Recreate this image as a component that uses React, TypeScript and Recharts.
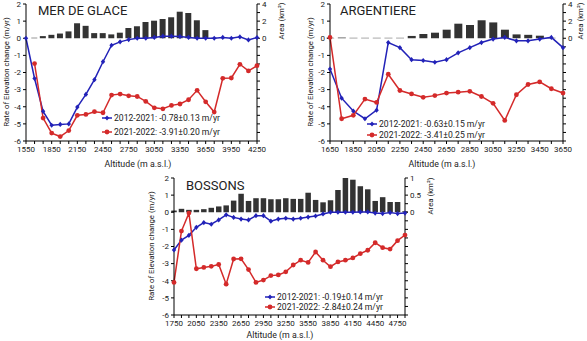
import React from 'react';
import { ComposedChart, Bar, Line, XAxis, YAxis } from 'recharts';

const BLUE = '#2222b8';
const RED = '#d42a2a';
const BAR = '#333333';
const FONT = 'Roboto, sans-serif';

// Mer de Glace
const merAlt = [1550, 1650, 1750, 1850, 1950, 2050, 2150, 2250, 2350, 2450, 2550, 2650, 2750, 2850, 2950, 3050, 3150, 3250, 3350, 3450, 3550, 3650, 3750, 3850, 3950, 4050, 4150, 4250];
const merBlue = [0, -2.35, -4.27, -5.08, -5.03, -5.0, -4.02, -3.28, -2.42, -1.37, -0.41, -0.21, -0.08, 0, 0, 0.05, 0.12, 0.12, 0.1, 0.05, 0, 0, 0, 0.05, 0, 0.08, -0.1, 0.04];
const merRed = [null, -1.48, -4.66, -5.54, -5.74, -5.39, -4.5, -4.45, -4.29, -4.35, -3.32, -3.26, -3.36, -3.4, -3.69, -4.06, -4.12, -3.92, -3.84, -3.59, -3.04, -3.71, -4.31, -2.34, -2.32, -1.52, -1.91, -1.6];
const merArea = [null, 0.05, 0.25, 0.4, 0.55, 0.8, 1.75, 1.45, 0.6, 0.6, 0.45, 0.65, 1.2, 1.4, 1.9, 2.05, 2.25, 2.45, 3.1, 2.95, 2.1, 0.95, 0.05, null, null, null, null, null];
const merXLabels = [1550, 1850, 2150, 2450, 2750, 3050, 3350, 3650, 3950, 4250];

// Argentiere
const argAlt = [1650, 1750, 1850, 1950, 2050, 2150, 2250, 2350, 2450, 2550, 2650, 2750, 2850, 2950, 3050, 3150, 3250, 3350, 3450, 3550, 3650];
const argBlue = [-1.8, -3.5, -4.25, -4.7, -4.2, -0.25, -0.55, -1.25, -1.3, -1.4, -1.25, -0.85, -0.55, -0.25, -0.05, 0.05, -0.15, -0.15, -0.05, 0.05, -0.55];
const argRed = [0.05, -4.7, -4.5, -3.55, -3.75, -2.1, -3.05, -3.25, -3.45, -3.35, -3.2, -3.15, -3.1, -3.4, -3.8, -4.8, -3.3, -2.7, -2.55, -2.95, -3.2];
const argArea = [0.05, 0.08, 0.05, 0.05, 0.05, 0.05, 0.05, 0.27, 0.5, 0.65, 1.0, 1.7, 1.55, 2.1, 1.85, 1.0, 0.45, 0.4, 0.3, 0.05, null];
const argXLabels = [1650, 1850, 2050, 2250, 2450, 2650, 2850, 3050, 3250, 3450, 3650];

// Bossons
const bosAlt = [1750, 1850, 1950, 2050, 2150, 2250, 2350, 2450, 2550, 2650, 2750, 2850, 2950, 3050, 3150, 3250, 3350, 3450, 3550, 3650, 3750, 3850, 3950, 4050, 4150, 4250, 4350, 4450, 4550, 4650, 4750, 4850];
const bosBlue = [-2.2, -1.63, -1.35, -0.88, -0.6, -0.7, -0.45, -0.15, -0.3, -0.4, -0.45, -0.2, -0.2, -0.52, -0.4, -0.35, -0.4, -0.35, -0.28, -0.22, -0.1, 0, 0, 0, 0, 0.02, 0.02, -0.05, -0.08, -0.02, -0.08, -0.05];
const bosRed = [-4.1, -1.1, -0.05, -3.3, -3.22, -3.16, -3.05, -4.2, -2.73, -2.72, -3.35, -4.1, -3.96, -3.7, -3.66, -3.48, -3.08, -2.8, -2.93, -2.32, -2.8, -3.18, -2.9, -2.8, -2.67, -2.42, -2.22, -1.78, -2.07, -2.15, -1.66, -1.33];
const bosArea = [0.05, 0.1, 0.07, 0.07, 0.09, 0.13, 0.17, 0.2, 0.34, 0.54, 0.33, 0.41, 0.41, 0.38, 0.38, 0.41, 0.39, 0.39, 0.57, 0.36, 0.29, 0.35, 0.65, 1.0, 0.95, 0.76, 0.67, 0.33, 0.44, 0.3, 0.3, 0.03];
const bosXLabels = [1750, 2050, 2350, 2650, 2950, 3250, 3550, 3850, 4150, 4450, 4750];

const leftTicks = [-6, -5, -4, -3, -2, -1, 0, 1, 2];
const kmTicks4 = [-12, -11, -10, -9, -8, -7, -6, -5, -4, -3, -2, -1, 0, 1, 2, 3, 4];
const kmLabels4 = [0, 2, 4];
const kmTicks1 = [-3, -2.75, -2.5, -2.25, -2, -1.75, -1.5, -1.25, -1, -0.75, -0.5, -0.25, 0, 0.25, 0.5, 0.75, 1];
const kmLabels1 = [0, 0.5, 1];

const rowsOf = (alt: number[], b: (number | null)[], r: (number | null)[], a: (number | null)[]) =>
  alt.map((x, i) => ({ alt: x, b: b[i], r: r[i], area: a[i] }));

const renderDiamond = (p: any) => {
  if (p.cx == null || p.cy == null || p.value == null) return <g key={`d${p.index}`} />;
  const { cx, cy } = p;
  return <path key={`d${p.index}`} d={`M${cx},${cy - 2.6}L${cx + 2.2},${cy}L${cx},${cy + 2.6}L${cx - 2.2},${cy}Z`} fill={BLUE} />;
};

const tickStyle = { fontSize: 8, fill: '#222', fontFamily: FONT };

function Panel(props: any) {
  const { rows, w, h, margin, leftW, rightW, xDomain, xTicks, xLabels, rightDomain, rightTicks, rightLabels, barSize } = props;
  return (
    <ComposedChart width={w} height={h} data={rows} margin={margin}>
      <XAxis
        dataKey="alt"
        type="number"
        domain={xDomain}
        ticks={xTicks}
        interval={0}
        tickFormatter={(v: number) => (xLabels.includes(v) ? String(v) : '')}
        tick={tickStyle}
        tickSize={3}
        tickMargin={2.5}
        height={20}
        axisLine={{ stroke: '#000' }}
        tickLine={{ stroke: '#000' }}
      />
      <YAxis
        yAxisId="left"
        domain={[-6, 2]}
        ticks={leftTicks}
        interval={0}
        width={leftW}
        tick={tickStyle}
        tickSize={3}
        tickMargin={2}
        axisLine={{ stroke: '#000' }}
        tickLine={{ stroke: '#000' }}
      />
      <YAxis
        yAxisId="right"
        orientation="right"
        domain={rightDomain}
        ticks={rightTicks}
        interval={0}
        width={rightW}
        tickFormatter={(v: number) => (rightLabels.includes(v) ? String(v) : '')}
        tick={tickStyle}
        tickSize={3}
        tickMargin={2}
        axisLine={{ stroke: '#000' }}
        tickLine={{ stroke: '#000' }}
      />
      <Bar yAxisId="right" dataKey="area" fill={BAR} barSize={barSize} isAnimationActive={false} />
      <Line yAxisId="left" dataKey="b" stroke={BLUE} strokeWidth={1.5} dot={renderDiamond} activeDot={false} isAnimationActive={false} />
      <Line yAxisId="left" dataKey="r" stroke={RED} strokeWidth={1.5} dot={{ r: 2.4, fill: RED, stroke: RED, strokeWidth: 0 }} activeDot={false} isAnimationActive={false} />
    </ComposedChart>
  );
}

function LegendRows({ x, y1, y2, t1, t2 }: any) {
  return (
    <g fontFamily={FONT} fontSize={8.6} fill="#222">
      <line x1={x} x2={x + 10} y1={y1} y2={y1} stroke={BLUE} strokeWidth={1.5} />
      <path d={`M${x + 5},${y1 - 2.6}L${x + 7.2},${y1}L${x + 5},${y1 + 2.6}L${x + 2.8},${y1}Z`} fill={BLUE} />
      <text x={x + 12} y={y1 + 3}>{t1}</text>
      <line x1={x} x2={x + 10} y1={y2} y2={y2} stroke={RED} strokeWidth={1.5} />
      <circle cx={x + 5} cy={y2} r={2.4} fill={RED} />
      <text x={x + 12} y={y2 + 3}>{t2}</text>
    </g>
  );
}

function Titles() {
  const lt = 'Rate of Elevation change (m/yr)';
  const at = 'Altitude (m a.s.l.)';
  return (
    <svg width={587} height={341} style={{ position: 'absolute', left: 0, top: 0, pointerEvents: 'none' }}>
      <g fontFamily={FONT} fill="#222">
        <text x={38} y={15} fontSize={13}>MER DE GLACE</text>
        <text x={340} y={15} fontSize={13}>ARGENTIERE</text>
        <text x={186} y={190} fontSize={13}>BOSSONS</text>

        <text transform="translate(6,72) rotate(-90)" textAnchor="middle" fontSize={7.8} dominantBaseline="central">{lt}</text>
        <text transform="translate(310,72) rotate(-90)" textAnchor="middle" fontSize={7.8} dominantBaseline="central">{lt}</text>
        <text transform="translate(151,246) rotate(-90)" textAnchor="middle" fontSize={7.8} dominantBaseline="central">{lt}</text>

        <text transform="translate(281,21) rotate(-90)" textAnchor="middle" fontSize={7.8} dominantBaseline="central">Area (km²)</text>
        <text transform="translate(580,21) rotate(-90)" textAnchor="middle" fontSize={7.8} dominantBaseline="central">Area (km²)</text>
        <text transform="translate(430,196) rotate(-90)" textAnchor="middle" fontSize={7.8} dominantBaseline="central">Area (km²)</text>

        <text x={138} y={167} textAnchor="middle" fontSize={8.8}>{at}</text>
        <text x={442} y={167} textAnchor="middle" fontSize={8.8}>{at}</text>
        <text x={280} y={338} textAnchor="middle" fontSize={8.8}>{at}</text>
      </g>
      <LegendRows x={102} y1={118} y2={132} t1="2012-2021: -0.78±0.13 m/yr" t2="2021-2022: -3.91±0.20 m/yr" />
      <LegendRows x={367} y1={124} y2={135} t1="2012-2021: -0.63±0.15 m/yr" t2="2021-2022: -3.41±0.25 m/yr" />
      <LegendRows x={265} y1={297} y2={307} t1="2012-2021: -0.19±0.14 m/yr" t2="2021-2022: -2.84±0.24 m/yr" />
    </svg>
  );
}

export default function App() {
  return (
    <div style={{ position: 'absolute', left: 0, top: 0, width: 587, height: 341, background: '#fff', overflow: 'hidden' }}>
      <div style={{ position: 'absolute', left: 0, top: 0 }}>
        <Panel
          rows={rowsOf(merAlt, merBlue, merRed, merArea)}
          w={300} h={175}
          margin={{ top: 4, right: 0, bottom: 14, left: 0 }}
          leftW={26} rightW={43}
          xDomain={[1550, 4250]} xTicks={merAlt} xLabels={merXLabels}
          rightDomain={[-12, 4]} rightTicks={kmTicks4} rightLabels={kmLabels4}
          barSize={6}
        />
      </div>
      <div style={{ position: 'absolute', left: 290, top: 0 }}>
        <Panel
          rows={rowsOf(argAlt, argBlue, argRed, argArea)}
          w={297} h={175}
          margin={{ top: 4, right: 0, bottom: 14, left: 0 }}
          leftW={40} rightW={24}
          xDomain={[1650, 3650]} xTicks={argAlt} xLabels={argXLabels}
          rightDomain={[-12, 4]} rightTicks={kmTicks4} rightLabels={kmLabels4}
          barSize={8}
        />
      </div>
      <div style={{ position: 'absolute', left: 130, top: 170 }}>
        <Panel
          rows={rowsOf(bosAlt, bosBlue, bosRed, bosArea)}
          w={320} h={171}
          margin={{ top: 8, right: 0, bottom: 6, left: 0 }}
          leftW={44} rightW={45}
          xDomain={[1750, 4850]} xTicks={bosAlt} xLabels={bosXLabels}
          rightDomain={[-3, 1]} rightTicks={kmTicks1} rightLabels={kmLabels1}
          barSize={5.5}
        />
      </div>
      <Titles />
    </div>
  );
}
